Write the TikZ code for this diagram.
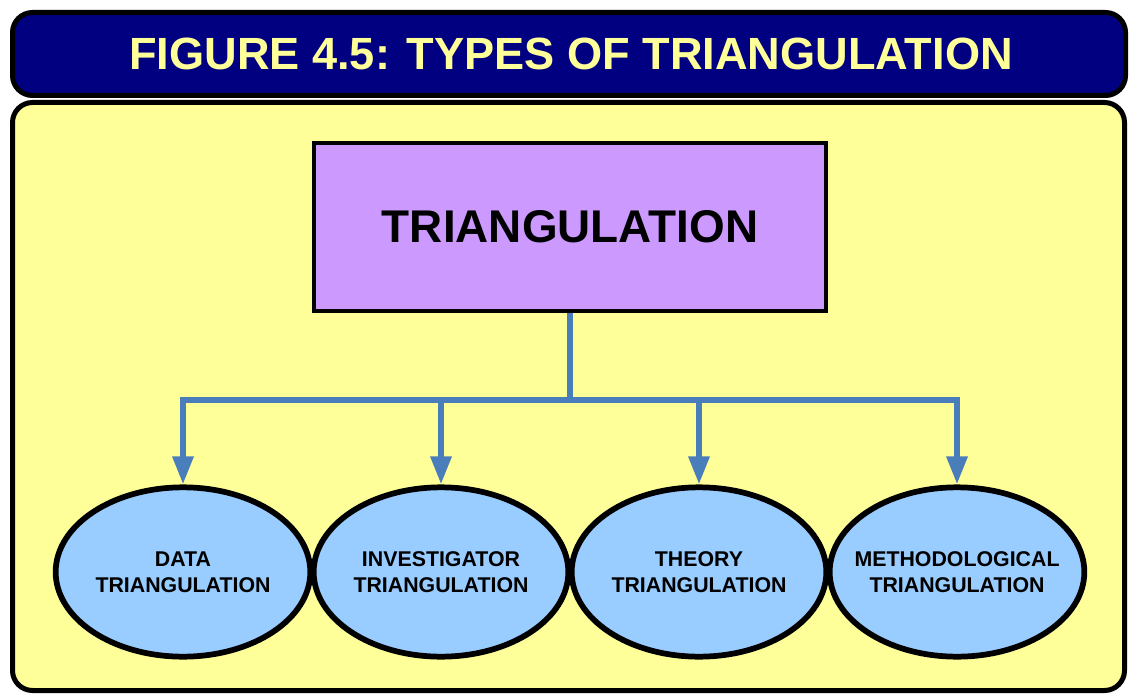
\documentclass[tikz,border=0pt]{standalone}
\usepackage{fontspec}
\setmainfont{Liberation Sans}
\usetikzlibrary{shapes.geometric,arrows.meta}
\definecolor{navybar}{HTML}{000080}
\definecolor{paleyellow}{HTML}{FFFF99}
\definecolor{lilac}{HTML}{CC99FF}
\definecolor{skyblue}{HTML}{99CCFF}
\definecolor{linkblue}{HTML}{4A7EBB}
\newcommand{\ctrline}[1]{\makebox[0pt]{#1}}
\tikzset{
  panel/.style={draw=black, line width=3.75pt, rounded corners=15pt},
  mainbox/.style={draw=black, fill=lilac, line width=3pt, minimum width=384pt, minimum height=126pt, inner sep=0pt, font=\bfseries\fontsize{34.4pt}{40pt}\selectfont},
  leaf/.style={ellipse, draw=black, fill=skyblue, line width=4.3pt, minimum width=191pt, minimum height=127pt, inner sep=0pt, align=center, font=\bfseries\fontsize{16pt}{19.5pt}\selectfont},
  link/.style={draw=linkblue, line width=4.5pt},
  linkarrow/.style={link, -{Triangle[width=15pt,length=21pt]}},
}
\begin{document}
\begin{tikzpicture}[x=0.75pt,y=-0.75pt]
\useasboundingbox (0,0) rectangle (1130,695);
\draw[panel, fill=navybar] (12.5,12.5) rectangle (1125.5,95.5);
\draw[panel, fill=paleyellow] (12.5,102.5) rectangle (1124.5,690.5);
\node[text=paleyellow, font=\bfseries\fontsize{33.85pt}{40pt}\selectfont] (title) at (571,54) {FIGURE 4.5: TYPES OF TRIANGULATION};
\node[mainbox] (tri) at (570,227) {TRIANGULATION};
\node[leaf] (e1) at (183,572) {\ctrline{DATA}\\\ctrline{TRIANGULATION}};
\node[leaf] (e2) at (441,572) {\ctrline{INVESTIGATOR}\\\ctrline{TRIANGULATION}};
\node[leaf] (e3) at (699,572) {\ctrline{THEORY}\\\ctrline{TRIANGULATION}};
\node[leaf] (e4) at (957,572) {\ctrline{METHODOLOGICAL}\\\ctrline{TRIANGULATION}};
\coordinate (bus) at (570,400);
\draw[link] (tri.south) -- (bus);
\draw[linkarrow] (bus) -| (e1.north);
\draw[linkarrow] (bus) -| (e2.north);
\draw[linkarrow] (bus) -| (e3.north);
\draw[linkarrow] (bus) -| (e4.north);
\end{tikzpicture}
\end{document}
